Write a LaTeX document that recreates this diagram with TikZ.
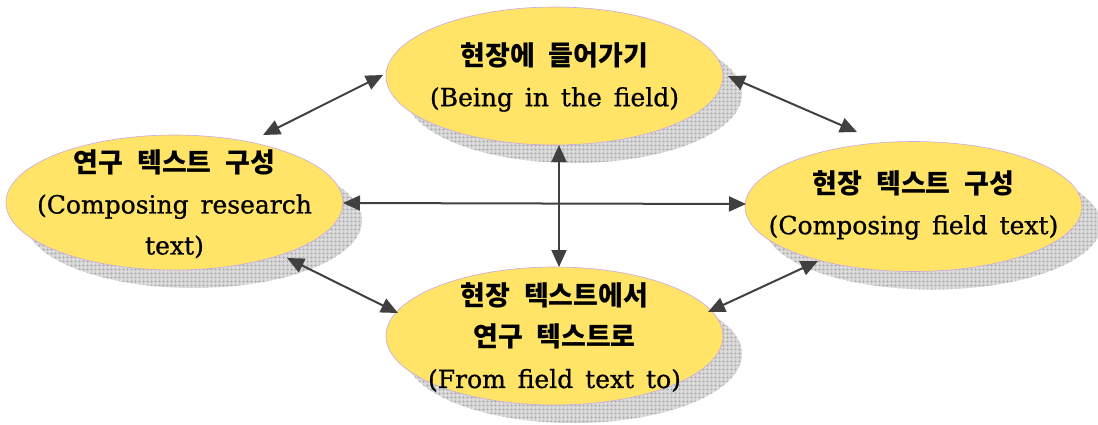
\documentclass[tikz,border=0pt]{standalone}
\usepackage{fontspec}
\setmainfont{DejaVu Serif}[WordSpace=1.5, FakeBold=0.8]
\newfontfamily\kr{Noto Sans CJK KR}[WordSpace=2.2]
\usetikzlibrary{arrows.meta,patterns,patterns.meta,calc,shapes.geometric}
\definecolor{ellfill}{HTML}{FFE467}
\definecolor{ellline}{HTML}{C9A9E3}
\definecolor{arr}{HTML}{404040}
\begin{document}
\begin{tikzpicture}[x=1pt,y=-1pt,
  ell/.style={ellipse, draw=ellline, line width=0.6pt, fill=ellfill,
    minimum width=337pt, minimum height=#1, inner sep=0pt},
  shadowell/.style={ellipse, draw=none, preaction={fill=gray!28},
    pattern={Hatch[distance=4pt, angle=0, line width=0.5pt]}, pattern color=gray!65,
    minimum width=337pt, minimum height=#1, inner sep=0pt},
  txt/.style={align=center, inner sep=0pt,
    font=\fontsize{25pt}{41pt}\selectfont},
  link/.style={draw=arr, line width=2pt,
    {Triangle[length=17pt,width=15pt]}-{Triangle[length=17pt,width=15pt]}}
]
\useasboundingbox (0,0) rectangle (1098,424);

% shadows
\node[shadowell=138pt] (Ts) at (573.5,94) {};
\node[shadowell=135pt] (Ls) at (193.5,220.5) {};
\node[shadowell=130pt] (Rs) at (932.5,224.5) {};
\node[shadowell=138pt] (Bs) at (573.5,354) {};

% ellipses
\node[ell=138pt] (T) at (554.5,76) {};
\node[ell=135pt] (L) at (174.5,202.5) {};
\node[ell=130pt] (R) at (913.5,206.5) {};
\node[ell=138pt] (B) at (554.5,336) {};

% texts
\newcommand{\krl}[1]{{\kr\bfseries\fontsize{27pt}{41pt}\selectfont #1}}
\node[txt] (Tt) at (554.5,77) {\krl{현장에 들어가기}\\(Being in the field)};
\node[txt] (Lt) at (174.5,204) {\krl{연구 텍스트 구성}\\(Composing research\\text)};
\node[txt] (Rt) at (913.5,205) {\krl{현장 텍스트 구성}\\(Composing field text)};
\node[txt] (Bt) at (554.5,337.5) {\krl{현장 텍스트에서}\\\krl{연구 텍스트로}\\(From field text to)};

% connectors
\draw[link] ($(L)+(88.5,-67.5)$) -- ($(T)+(-171.5,-1)$);
\draw[link] ($(T)+(173.5,0)$) -- ($(R)+(-56.5,-74.5)$);
\draw[link] ($(L)+(168.5,0.5)$) -- ($(R)+(-167.5,-2.5)$);
\draw[link] ($(T)+(4.5,69)$) -- ($(B)+(4.5,-69)$);
\draw[link] ($(L)+(112.5,55.5)$) -- ($(B)+(-156.5,-23)$);
\draw[link] ($(B)+(153.5,-24)$) -- ($(R)+(-95.5,54.5)$);
\end{tikzpicture}
\end{document}
